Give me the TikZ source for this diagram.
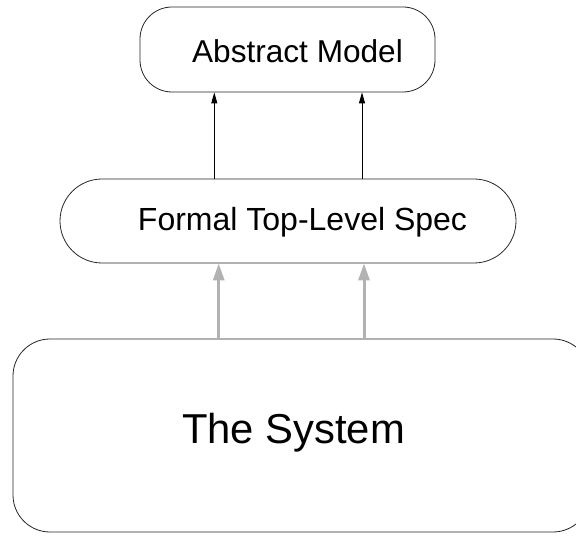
\documentclass[tikz,border=0pt]{standalone}
\usepackage{fontspec}
\setmainfont{Liberation Sans}
\usetikzlibrary{arrows.meta}
\begin{document}
\begin{tikzpicture}[x=1pt,y=-1pt,
  box/.style={draw=black!85, line width=0.8pt, inner sep=0pt},
  txt/.style={inner sep=0pt, anchor=base},
  thinarrow/.style={draw=black, line width=0.9pt, -{Triangle[length=11pt,width=6pt]}},
  grayarrow/.style={draw=black!30, line width=3pt, -{Triangle[length=17pt,width=11pt]}}]
\useasboundingbox (0,0) rectangle (576,537);
\clip (0,0) rectangle (576,537);
\node[box, rounded corners=32pt, minimum width=295pt, minimum height=85pt] (top) at (287.5,49.5) {};
\node[box, rounded corners=42pt, minimum width=456pt, minimum height=84pt] (mid) at (288,221) {};
\node[box, rounded corners=37pt, minimum width=577pt, minimum height=193pt] (sys) at (301.5,435.5) {};
\node[txt, font=\fontsize{31.6}{36}\selectfont] (ttop) at (297.5,63) {Abstract Model};
\node[txt, font=\fontsize{32}{36}\selectfont] (tmid) at (302.5,231) {Formal Top-Level Spec};
\node[txt, font=\fontsize{41.8}{48}\selectfont] (tsys) at (293.5,443) {The System};
\coordinate (c1) at (214.3,0);
\coordinate (c2) at (362,0);
\coordinate (g1) at (218.7,0);
\coordinate (g2) at (364,0);
\draw[thinarrow] (mid.north -| c1) -- (top.south -| c1);
\draw[thinarrow] (mid.north -| c2) -- (top.south -| c2);
\draw[grayarrow] (sys.north -| g1) -- (mid.south -| g1);
\draw[grayarrow] (sys.north -| g2) -- (mid.south -| g2);
\end{tikzpicture}
\end{document}
